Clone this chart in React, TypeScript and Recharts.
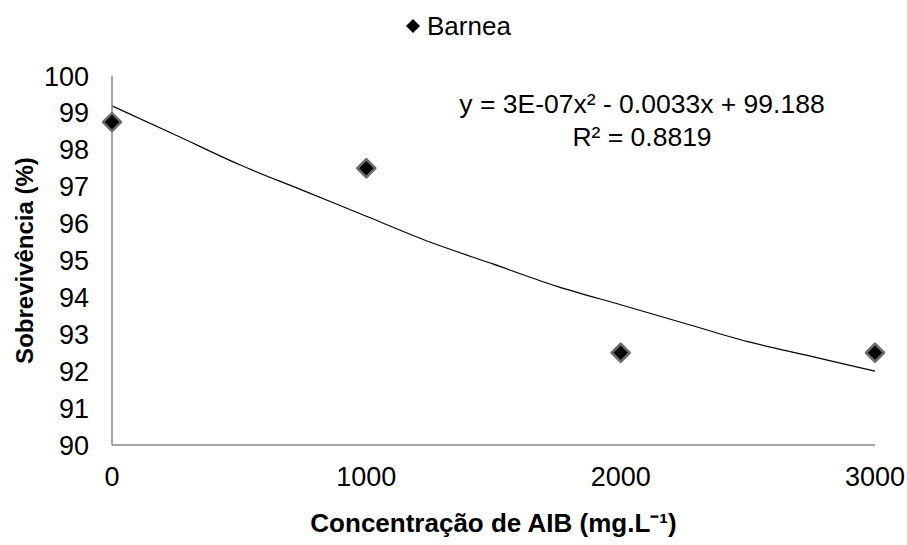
import { ComposedChart, Line, Scatter, XAxis, YAxis } from 'recharts'

// observed survival per AIB concentration
const concentrations = [0, 1000, 2000, 3000]
const survival = [98.75, 97.5, 92.5, 92.5]

// polynomial trendline, values
const trendX = [0, 250, 500, 750, 1000, 1250, 1500, 1750, 2000, 2250, 2500, 2750, 3000]
const trendY = [99.19, 98.4, 97.6, 96.9, 96.2, 95.5, 94.9, 94.3, 93.8, 93.3, 92.8, 92.4, 92.0]

const xTicks = [0, 1000, 2000, 3000]
const yTicks = [90, 91, 92, 93, 94, 95, 96, 97, 98, 99, 100]

const seriesName = 'Barnea'
const equation = 'y = 3E-07x² - 0.0033x + 99.188'
const rSquared = 'R² = 0.8819'

const points = concentrations.map((x, i) => ({ x, y: survival[i] }))
const trend = trendX.map((x, i) => ({ x, y: trendY[i] }))

const FONT = '"Liberation Sans", Arial, sans-serif'
const AXIS = '#878787'

const Diamond = (props: any) => {
  const { cx, cy } = props
  const r = 9
  return (
    <polygon
      points={`${cx},${cy - r} ${cx + r},${cy} ${cx},${cy + r} ${cx - r},${cy}`}
      fill="#000"
      stroke="#6b6b6b"
      strokeWidth={2.5}
      strokeLinejoin="round"
    />
  )
}

export default function App() {
  return (
    <div style={{ position: 'absolute', left: 0, top: 0, width: 907, height: 545, background: '#fff', fontFamily: FONT }}>
      <ComposedChart width={907} height={545} margin={{ top: 76, right: 32, left: 0, bottom: 0 }}>
        <XAxis
          dataKey="x"
          type="number"
          domain={[0, 3000]}
          ticks={xTicks}
          tickLine={false}
          tickSize={0}
          tickMargin={22}
          height={100}
          stroke={AXIS}
          strokeWidth={1.5}
          tick={{ fill: '#000', fontSize: 27, fontFamily: FONT }}
          label={{
            value: 'Concentração de AIB (mg.L⁻¹)',
            position: 'insideBottom',
            offset: 13,
            style: { fill: '#000', fontSize: 26, fontWeight: 'bold', fontFamily: FONT },
          }}
        />
        <YAxis
          type="number"
          domain={[90, 100]}
          ticks={yTicks}
          tickLine={false}
          tickSize={0}
          tickMargin={23}
          width={112}
          stroke={AXIS}
          strokeWidth={1.5}
          interval={0}
          tick={{ fill: '#000', fontSize: 27, fontFamily: FONT }}
          label={{
            value: 'Sobrevivência (%)',
            angle: -90,
            position: 'insideLeft',
            offset: 24,
            style: { fill: '#000', fontSize: 24, fontWeight: 'bold', fontFamily: FONT, textAnchor: 'middle' },
          }}
        />
        <Line
          data={trend}
          dataKey="y"
          type="monotone"
          stroke="#000"
          strokeWidth={1.2}
          dot={false}
          activeDot={false}
          legendType="none"
          isAnimationActive={false}
        />
        <Scatter
          data={points}
          dataKey="y"
          name={seriesName}
          shape={Diamond}
          isAnimationActive={false}
        />
      </ComposedChart>
      <svg width={907} height={545} style={{ position: 'absolute', left: 0, top: 0, pointerEvents: 'none' }}>
        <polygon points="413,19 420,26 413,33 406,26" fill="#000" />
        <text x={427} y={35} fontSize={26} fontFamily={FONT} fill="#000">
          {seriesName}
        </text>
        <text x={642} y={113} textAnchor="middle" fontSize={26.5} fontFamily={FONT} fill="#000">
          {equation}
        </text>
        <text x={642} y={146} textAnchor="middle" fontSize={26.5} fontFamily={FONT} fill="#000">
          {rSquared}
        </text>
      </svg>
    </div>
  )
}
